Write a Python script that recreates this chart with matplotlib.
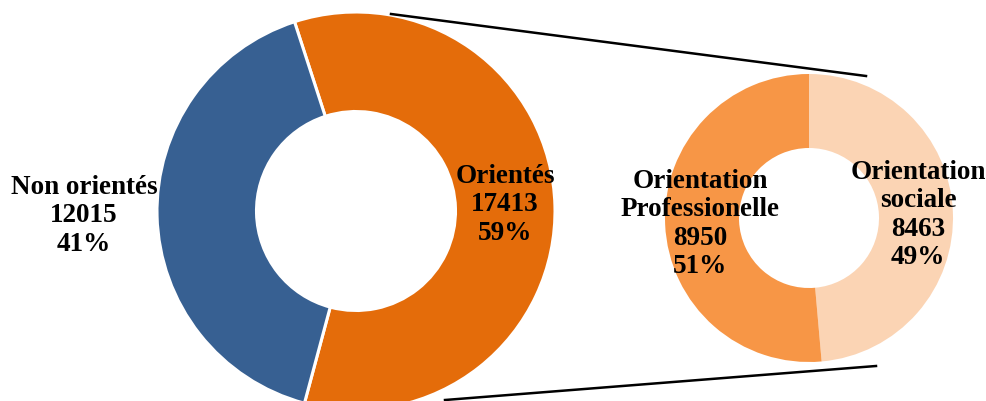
import matplotlib.pyplot as plt

# données
main_labels = ["Orientés", "Non orientés"]
main_values = [17413, 12015]
main_colors = ["#E46C0A", "#376092"]

sub_labels = ["Orientation\nsociale", "Orientation\nProfessionelle"]
sub_values = [8463, 8950]
sub_colors = ["#FBD4B4", "#F79646"]

plt.rcParams["font.family"] = ["Liberation Serif", "DejaVu Serif"]

fig = plt.figure(figsize=(9.87, 4.01), dpi=100)
ax = fig.add_axes([0, 0, 1, 1])

H = 401

# anneau principal
ax.pie(main_values, colors=main_colors, startangle=108, counterclock=False,
       center=(356, H - 211), radius=199,
       wedgeprops=dict(width=99.5, edgecolor="white", linewidth=2.2))

# anneau détail
ax.pie(sub_values, colors=sub_colors, startangle=90, counterclock=False,
       center=(809, H - 218), radius=144,
       wedgeprops=dict(width=74, linewidth=0))

# pie() change les limites, on les remet après
ax.set_xlim(0, 987)
ax.set_ylim(0, 401)
ax.set_aspect("equal")
ax.axis("off")

# lignes de liaison
ax.plot([391, 866], [H - 14, H - 76], color="black", lw=1.8)
ax.plot([445, 876], [H - 400, H - 366], color="black", lw=1.8)


def label(name, value, total):
    pct = round(100 * value / total)
    return f"{name}\n{value}\n{pct}%"


tot = sum(main_values)
sub_tot = sum(sub_values)
style = dict(fontsize=19.5, fontweight="bold", ha="center", va="center",
             linespacing=1.17, color="black")

ax.text(84, H - 216, label(main_labels[1], main_values[1], tot), **style)
ax.text(505, H - 205, label(main_labels[0], main_values[0], tot), **style)
ax.text(700, H - 224, label(sub_labels[1], sub_values[1], sub_tot), **style)
ax.text(918, H - 215, label(sub_labels[0], sub_values[0], sub_tot), **style)

fig.savefig("out.png", dpi=100)
